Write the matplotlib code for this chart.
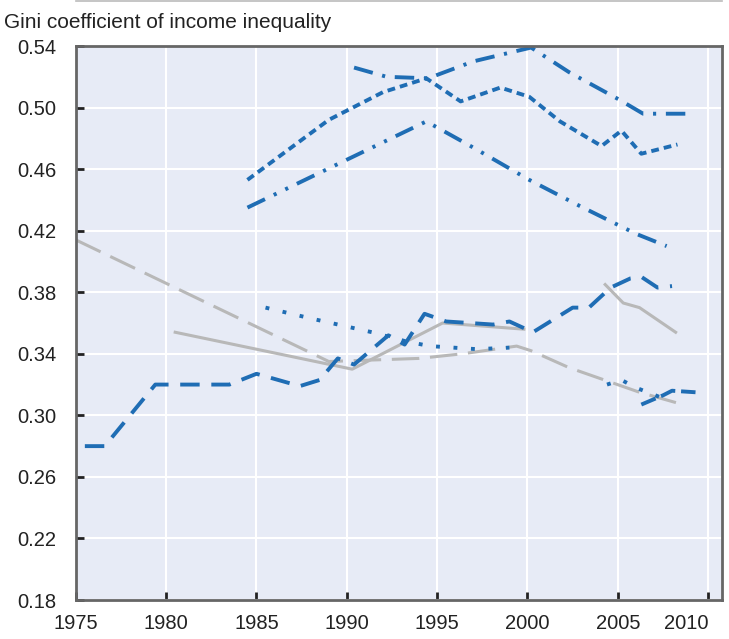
import numpy as np
import matplotlib
matplotlib.use("Agg")
import matplotlib.pyplot as plt
from matplotlib.lines import Line2D

# values (NaN = break in a line)
nan = np.nan
years_a = [1990.4, 1992.2, 1994.5, 1997.0, 2000.2, 2002.3, 2005.1, 2006.4, 2009.2]
gini_a = [0.526, 0.520, 0.519, 0.530, 0.539, 0.523, 0.505, 0.496, 0.496]

years_b = [1984.5, 1989.0, 1992.0, 1994.4, 1996.3, 1998.5, 2000.1, 2001.8, 2004.1, 2005.2, 2006.3, 2008.3]
gini_b = [0.453, 0.492, 0.510, 0.519, 0.504, 0.513, 0.507, 0.491, 0.475, 0.485, 0.470, 0.476]

years_c = [1984.5, 1994.4, 1997.0, 2000.1, 2002.9, 2006.0, 2007.7]
gini_c = [0.435, 0.491, 0.474, 0.453, 0.436, 0.418, 0.410]

years_d = [1975.5, 1976.6, 1979.4, 1983.5, 1985.0, 1987.4, 1988.5, 1989.5, 1990.4,
           1992.3, 1993.2, 1994.3, 1995.5, 1998.1, 1999.0, 2000.3, 2002.5, 2003.4,
           2004.6, 2005.7, 2006.3, 2007.2, 2008.0]
gini_d = [0.280, 0.280, 0.320, 0.320, 0.327, 0.319, 0.323, 0.337, 0.333,
          0.352, 0.346, 0.366, 0.361, 0.359, 0.361, 0.354, 0.370, 0.370,
          0.383, 0.389, 0.390, 0.383, 0.384]

years_e = [1985.5, 1988.0, 1991.4, 1993.3, 1994.6, 1997.2, 1999.0, nan, 2004.4, 2005.2, 2006.0, 2007.3]
gini_e = [0.370, 0.363, 0.354, 0.348, 0.345, 0.343, 0.344, nan, 0.320, 0.323, 0.318, 0.312]

years_f = [2006.3, 2007.5, 2008.0, 2009.3]
gini_f = [0.307, 0.313, 0.316, 0.315]

years_g = [1975.0, 1989.0, 1994.0, 1996.4, 1999.4, 2000.2, 2002.3, 2006.2, 2008.3]
gini_g = [0.414, 0.335, 0.337, 0.340, 0.345, 0.342, 0.331, 0.315, 0.308]

years_h = [1980.5, 1990.3, 1995.3, 1999.8, nan, 2004.3, 2005.3, 2006.2, 2008.2]
gini_h = [0.354, 0.330, 0.360, 0.356, nan, 0.385, 0.373, 0.370, 0.354]

x_ticks = [1975, 1980, 1985, 1990, 1995, 2000, 2005, 2010]
y_ticks = [0.18, 0.22, 0.26, 0.30, 0.34, 0.38, 0.42, 0.46, 0.50, 0.54]

blue = "#1f6db4"
grey = "#b8b8b8"

plt.rcParams["font.family"] = ["Liberation Sans", "DejaVu Sans"]

fig = plt.figure(figsize=(7.29, 6.39), dpi=100)
ax = fig.add_axes([0.104, 0.061, 0.886, 0.867])
ax.set_facecolor("#e7ebf6")

ax.plot(years_g, gini_g, color=grey, lw=2.2, linestyle=(0, (9, 3.5)))
ax.plot(years_h, gini_h, color=grey, lw=2.2)
ax.plot(years_a, gini_a, color=blue, lw=2.8, linestyle=(0, (5, 2.5, 0.8, 2.5)))
ax.plot(years_b, gini_b, color=blue, lw=2.8, linestyle=(0, (2, 1.3)))
ax.plot(years_c, gini_c, color=blue, lw=2.8, linestyle=(0, (5, 2.5, 0.8, 2.5, 0.8, 2.5)))
ax.plot(years_d, gini_d, color=blue, lw=2.8, linestyle=(0, (5, 3)))
ax.plot(years_e, gini_e, color=blue, lw=2.8, linestyle=(0, (1, 3.5)))
ax.plot(years_f, gini_f, color=blue, lw=2.8, linestyle=(0, (4, 1.5)))

ax.set_xlim(1975, 2010.75)
ax.set_ylim(0.18, 0.54)
ax.set_xticks(x_ticks)
ax.set_yticks(y_ticks)
ax.set_yticklabels([f"{v:.2f}" for v in y_ticks])
ax.grid(True, color="white", lw=1.5)
ax.set_axisbelow(True)
ax.tick_params(axis="both", direction="in", colors="#222222", labelsize=14.5,
               length=6, width=2)
ax.tick_params(axis="x", pad=10)
ax.tick_params(axis="y", pad=14)
# keep the last year label inside the picture, as in the reference
ax.get_xticklabels()[-1].set_horizontalalignment("right")
ax.get_xticklabels()[-1].set_x(2010.75)
for side in ["top", "right", "bottom", "left"]:
    ax.spines[side].set_color("#666666")
    ax.spines[side].set_linewidth(2)

fig.text(0.005, 0.965, "Gini coefficient of income inequality", fontsize=15,
         color="#222222", va="center", ha="left")
fig.add_artist(Line2D([0.104, 0.99], [0.999, 0.999], color="#bbbbbb", lw=1.2))

fig.savefig("out.png", dpi=100)
